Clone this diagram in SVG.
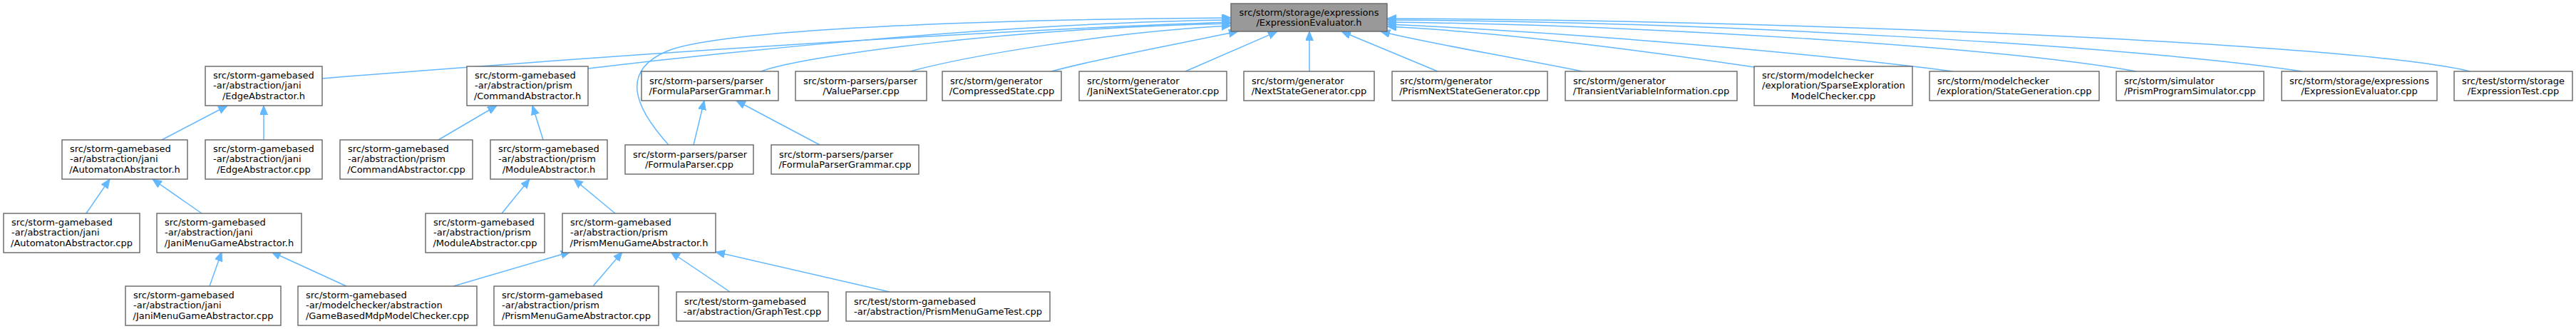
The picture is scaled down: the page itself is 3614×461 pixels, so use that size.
<svg xmlns="http://www.w3.org/2000/svg" width="3614" height="461" viewBox="0 0 3614 461">
<style>
.box{fill:#ffffff;stroke:#666666;stroke-width:1.4}
.main{fill:#999999;stroke:#666666;stroke-width:1.4}
text{font-family:"DejaVu Sans","Liberation Sans",sans-serif;font-size:13px;fill:#000000}
.c{text-anchor:middle}
.e{fill:none;stroke:#63b8ff;stroke-width:1.5;marker-end:url(#arr)}
</style>
<defs>
<marker id="arr" markerUnits="userSpaceOnUse" markerWidth="14" markerHeight="12" refX="13" refY="5.5" orient="auto">
<path d="M0,0 L13,5.5 L0,11 z" fill="#63b8ff" stroke="#63b8ff" stroke-width="1"/>
</marker>
</defs>
<rect width="3614" height="461" fill="#ffffff"/>
<g id="edges">
<path class="e" d="M938,203 C890,150 870,100 935,72 C1010,40 1400,27 1727,25"/>
<path class="e" d="M452,110 C700,90 1300,45 1727,31"/>
<path class="e" d="M825,96 C1000,75 1400,32 1727,28"/>
<path class="e" d="M1068,100 C1120,80 1400,40 1727,33"/>
<path class="e" d="M1277,100 C1350,80 1550,45 1727,36"/>
<path class="e" d="M1475,100 C1550,80 1650,62 1737,44"/>
<path class="e" d="M1663,100 L1792,44"/>
<path class="e" d="M1837,100 L1837,44"/>
<path class="e" d="M2017,100 L1882,44"/>
<path class="e" d="M2220,100 C2100,76 2000,60 1937,44"/>
<path class="e" d="M2461,94 C2300,70 2100,45 1946,37"/>
<path class="e" d="M2740,100 C2550,75 2200,45 1946,34"/>
<path class="e" d="M2997,100 C2800,65 2300,35 1946,31"/>
<path class="e" d="M3230,100 C3000,65 2400,30 1946,28"/>
<path class="e" d="M3465,100 C3300,60 2500,28 1946,26"/>
<path class="e" d="M227,196 L319,148"/>
<path class="e" d="M370,196 L370,148"/>
<path class="e" d="M615,196 L697,148"/>
<path class="e" d="M762,196 L747,148"/>
<path class="e" d="M973,203 L988,141"/>
<path class="e" d="M1150,203 L1033,141"/>
<path class="e" d="M121,299 L154,251"/>
<path class="e" d="M283,299 L214,251"/>
<path class="e" d="M704,299 L743,251"/>
<path class="e" d="M863,299 L805,251"/>
<path class="e" d="M294,401 L311,353"/>
<path class="e" d="M486,401 L381,353"/>
<path class="e" d="M636,401 L800,353"/>
<path class="e" d="M832,401 L873,353"/>
<path class="e" d="M1024,409 L941,353"/>
<path class="e" d="M1248,409 L1004,353"/>
</g>
<g id="n_expr_h"><rect class="main" x="1727" y="5" width="219" height="39"/><text x="1738.5" y="21.5">src/storm/storage/expressions</text><text class="c" x="1836.5" y="36">/ExpressionEvaluator.h</text></g>
<g id="n_edgeabs_h"><rect class="box" x="288" y="93" width="164" height="55"/><text x="299" y="109.8">src/storm-gamebased</text><text x="299" y="124.4">-ar/abstraction/jani</text><text class="c" x="370" y="139">/EdgeAbstractor.h</text></g>
<g id="n_cmdabs_h"><rect class="box" x="655" y="93" width="170" height="55"/><text x="666" y="109.8">src/storm-gamebased</text><text x="666" y="124.4">-ar/abstraction/prism</text><text class="c" x="740" y="139">/CommandAbstractor.h</text></g>
<g id="n_fpg_h"><rect class="box" x="900" y="100" width="192" height="41"/><text x="911" y="117.5">src/storm-parsers/parser</text><text class="c" x="996" y="132">/FormulaParserGrammar.h</text></g>
<g id="n_valueparser"><rect class="box" x="1116" y="100" width="184" height="41"/><text x="1127" y="117.5">src/storm-parsers/parser</text><text class="c" x="1208" y="132">/ValueParser.cpp</text></g>
<g id="n_compressed"><rect class="box" x="1322" y="100" width="167" height="41"/><text x="1333" y="117.5">src/storm/generator</text><text class="c" x="1405.5" y="132">/CompressedState.cpp</text></g>
<g id="n_janinsg"><rect class="box" x="1514" y="100" width="207" height="41"/><text x="1525" y="117.5">src/storm/generator</text><text class="c" x="1617.5" y="132">/JaniNextStateGenerator.cpp</text></g>
<g id="n_nsg"><rect class="box" x="1745" y="100" width="183" height="41"/><text x="1756" y="117.5">src/storm/generator</text><text class="c" x="1836.5" y="132">/NextStateGenerator.cpp</text></g>
<g id="n_prismnsg"><rect class="box" x="1953" y="100" width="218" height="41"/><text x="1964" y="117.5">src/storm/generator</text><text class="c" x="2062" y="132">/PrismNextStateGenerator.cpp</text></g>
<g id="n_transient"><rect class="box" x="2196" y="100" width="241" height="41"/><text x="2207" y="117.5">src/storm/generator</text><text class="c" x="2316.5" y="132">/TransientVariableInformation.cpp</text></g>
<g id="n_sparseexpl"><rect class="box" x="2461" y="93" width="222" height="55"/><text x="2472" y="109.8">src/storm/modelchecker</text><text x="2472" y="124.4">/exploration/SparseExploration</text><text class="c" x="2572" y="139">ModelChecker.cpp</text></g>
<g id="n_stategen"><rect class="box" x="2707" y="100" width="238" height="41"/><text x="2718" y="117.5">src/storm/modelchecker</text><text class="c" x="2826" y="132">/exploration/StateGeneration.cpp</text></g>
<g id="n_simulator"><rect class="box" x="2969" y="100" width="207" height="41"/><text x="2980" y="117.5">src/storm/simulator</text><text class="c" x="3072.5" y="132">/PrismProgramSimulator.cpp</text></g>
<g id="n_expr_cpp"><rect class="box" x="3201" y="100" width="218" height="41"/><text x="3212" y="117.5">src/storm/storage/expressions</text><text class="c" x="3310" y="132">/ExpressionEvaluator.cpp</text></g>
<g id="n_exprtest"><rect class="box" x="3443" y="100" width="166" height="41"/><text x="3454" y="117.5">src/test/storm/storage</text><text class="c" x="3526" y="132">/ExpressionTest.cpp</text></g>
<g id="n_autabs_h"><rect class="box" x="87" y="196" width="176" height="55"/><text x="98" y="212.8">src/storm-gamebased</text><text x="98" y="227.4">-ar/abstraction/jani</text><text class="c" x="175" y="242">/AutomatonAbstractor.h</text></g>
<g id="n_edgeabs_cpp"><rect class="box" x="288" y="196" width="164" height="55"/><text x="299" y="212.8">src/storm-gamebased</text><text x="299" y="227.4">-ar/abstraction/jani</text><text class="c" x="370" y="242">/EdgeAbstractor.cpp</text></g>
<g id="n_cmdabs_cpp"><rect class="box" x="477" y="196" width="186" height="55"/><text x="488" y="212.8">src/storm-gamebased</text><text x="488" y="227.4">-ar/abstraction/prism</text><text class="c" x="570" y="242">/CommandAbstractor.cpp</text></g>
<g id="n_modabs_h"><rect class="box" x="688" y="196" width="164" height="55"/><text x="699" y="212.8">src/storm-gamebased</text><text x="699" y="227.4">-ar/abstraction/prism</text><text class="c" x="770" y="242">/ModuleAbstractor.h</text></g>
<g id="n_fp_cpp"><rect class="box" x="877" y="203" width="180" height="41"/><text x="888" y="220.5">src/storm-parsers/parser</text><text class="c" x="967" y="235">/FormulaParser.cpp</text></g>
<g id="n_fpg_cpp"><rect class="box" x="1082" y="203" width="207" height="41"/><text x="1093" y="220.5">src/storm-parsers/parser</text><text class="c" x="1185.5" y="235">/FormulaParserGrammar.cpp</text></g>
<g id="n_autabs_cpp"><rect class="box" x="5" y="299" width="191" height="55"/><text x="16" y="315.8">src/storm-gamebased</text><text x="16" y="330.4">-ar/abstraction/jani</text><text class="c" x="100.5" y="345">/AutomatonAbstractor.cpp</text></g>
<g id="n_janimga_h"><rect class="box" x="220" y="299" width="203" height="55"/><text x="231" y="315.8">src/storm-gamebased</text><text x="231" y="330.4">-ar/abstraction/jani</text><text class="c" x="321.5" y="345">/JaniMenuGameAbstractor.h</text></g>
<g id="n_modabs_cpp"><rect class="box" x="597" y="299" width="167" height="55"/><text x="608" y="315.8">src/storm-gamebased</text><text x="608" y="330.4">-ar/abstraction/prism</text><text class="c" x="680.5" y="345">/ModuleAbstractor.cpp</text></g>
<g id="n_prismmga_h"><rect class="box" x="789" y="299" width="215" height="55"/><text x="800" y="315.8">src/storm-gamebased</text><text x="800" y="330.4">-ar/abstraction/prism</text><text class="c" x="896.5" y="345">/PrismMenuGameAbstractor.h</text></g>
<g id="n_janimga_cpp"><rect class="box" x="176" y="401" width="218" height="55"/><text x="187" y="417.8">src/storm-gamebased</text><text x="187" y="432.4">-ar/abstraction/jani</text><text class="c" x="285" y="447">/JaniMenuGameAbstractor.cpp</text></g>
<g id="n_gbmdp"><rect class="box" x="418" y="401" width="251" height="55"/><text x="429" y="417.8">src/storm-gamebased</text><text x="429" y="432.4">-ar/modelchecker/abstraction</text><text class="c" x="543.5" y="447">/GameBasedMdpModelChecker.cpp</text></g>
<g id="n_prismmga_cpp"><rect class="box" x="693" y="401" width="231" height="55"/><text x="704" y="417.8">src/storm-gamebased</text><text x="704" y="432.4">-ar/abstraction/prism</text><text class="c" x="808.5" y="447">/PrismMenuGameAbstractor.cpp</text></g>
<g id="n_graphtest"><rect class="box" x="949" y="409" width="213" height="41"/><text x="960" y="426.5">src/test/storm-gamebased</text><text class="c" x="1055.5" y="441">-ar/abstraction/GraphTest.cpp</text></g>
<g id="n_pmgtest"><rect class="box" x="1187" y="409" width="286" height="41"/><text x="1198" y="426.5">src/test/storm-gamebased</text><text class="c" x="1330" y="441">-ar/abstraction/PrismMenuGameTest.cpp</text></g>
</svg>
